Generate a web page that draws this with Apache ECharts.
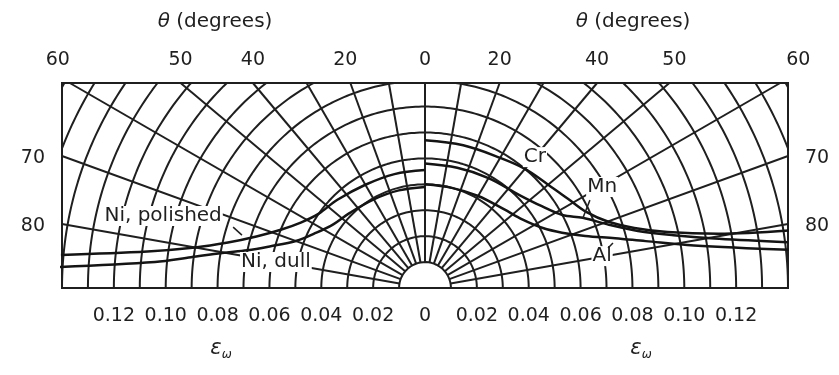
<!DOCTYPE html>
<html><head><meta charset="utf-8">
<script src="https://cdn.jsdelivr.net/npm/echarts@6/dist/echarts.min.js"></script>
<style>html,body{margin:0;padding:0;background:#fff}#c{width:839px;height:375px}</style>
</head><body><div id="c"></div>
<script>
// ---- data ----
const ringRadii = [0.01,0.02,0.03,0.04,0.05,0.06,0.07,0.08,0.09,0.10,0.11,0.12,0.13,0.14,0.15,0.16];
const spokeAngles = [-80,-70,-60,-50,-40,-30,-20,-10,0,10,20,30,40,50,60,70,80];
const topTickAngles = [-60,-50,-40,-20,0,20,40,50,60];
const sideTickAngles = [-80,-70,70,80];

// left half (Ni) – angles measured from the normal, drawn to the left
const niPolishedDeg = [0, 15, 30, 45, 55, 62, 68, 73, 77, 80, 82.5, 84.8];
const niPolishedEps = [0.0455, 0.0455, 0.046, 0.048, 0.050, 0.054, 0.060, 0.068, 0.078, 0.090, 0.108, 0.141];
const niDullDeg = [0, 15, 30, 45, 55, 63, 70, 75, 78, 80.2, 82.5, 84.5, 86.7];
const niDullEps = [0.039, 0.039, 0.0395, 0.041, 0.043, 0.047, 0.053, 0.062, 0.070, 0.0794, 0.091, 0.1046, 0.141];
// right half
const crDeg = [0, 15, 30, 40, 50, 58, 65, 70, 74, 77, 79.5, 81];
const crEps = [0.057, 0.057, 0.058, 0.060, 0.062, 0.065, 0.069, 0.075, 0.084, 0.096, 0.115, 0.142];
const mnDeg = [0, 15, 30, 45, 55, 62, 66, 71, 75, 78, 80.5, 82.8];
const mnEps = [0.048, 0.048, 0.049, 0.051, 0.055, 0.060, 0.0666, 0.075, 0.085, 0.098, 0.115, 0.141];
const alDeg = [0, 15, 30, 45, 55, 63, 68, 72, 75.3, 78, 81, 84];
const alEps = [0.040, 0.040, 0.041, 0.043, 0.046, 0.051, 0.057, 0.065, 0.0758, 0.087, 0.105, 0.141];

// ---- layout / style ----
const X_MAX = 0.14, Y_MAX = 0.0791;
const INK = '#1f1f1f';
const FONT = '"DejaVu Sans", "Liberation Sans", Arial, sans-serif';

function P(eps, deg) { const t = deg * Math.PI / 180; return [eps * Math.sin(t), eps * Math.cos(t)]; }
function curve(degs, epss, side) { return degs.map((d, i) => P(epss[i], side * d)); }

const series = [];
// rings
ringRadii.forEach(r => {
  const pts = [];
  for (let a = -90; a <= 90; a += 1) pts.push(P(r, a));
  series.push({ type: 'line', data: pts, showSymbol: false, symbol: 'none', clip: true, silent: true,
    lineStyle: { color: INK, width: 2 }, z: 2 });
});
// spokes
spokeAngles.forEach(a => {
  const t = Math.abs(a) * Math.PI / 180;
  const rEnd = Math.min(Y_MAX / Math.cos(t), t === 0 ? 1 : X_MAX / Math.sin(t));
  series.push({ type: 'line', data: [P(0.01, a), P(rEnd, a)], showSymbol: false, symbol: 'none', clip: true, silent: true,
    lineStyle: { color: INK, width: 2 }, z: 2 });
});
// data curves
[[niPolishedDeg, niPolishedEps, -1], [niDullDeg, niDullEps, -1], [crDeg, crEps, 1], [mnDeg, mnEps, 1], [alDeg, alEps, 1]]
  .forEach(([d, e, s]) => series.push({ type: 'line', data: curve(d, e, s), smooth: 0.35, showSymbol: false, symbol: 'none',
    clip: true, lineStyle: { color: '#141414', width: 2.5 }, z: 3 }));

const labelBase = { color: INK, opacity: 1, fontFamily: FONT };
// top angle labels
const topOffsets = { '-60': [-12, 0], '60': [18, 0], '-20': [-5, 0], '50': [5, 0] };
series.push({ type: 'scatter', symbolSize: 0, z: 5, silent: true, itemStyle: { opacity: 1 },
  data: topTickAngles.map(a => ({ value: [Y_MAX * Math.tan(a * Math.PI / 180), Y_MAX],
    label: { offset: topOffsets[String(a)] || [0, 0] }, name: String(Math.abs(a)) })),
  label: Object.assign({ show: true, position: 'top', distance: 13, formatter: p => p.name, fontSize: 19 }, labelBase) });
// side angle labels
series.push({ type: 'scatter', symbolSize: 0, z: 5, silent: true, itemStyle: { opacity: 1 },
  data: sideTickAngles.map(a => ({ value: [Math.sign(a) * X_MAX, X_MAX / Math.tan(Math.abs(a) * Math.PI / 180)],
    name: String(Math.abs(a)), label: { position: a < 0 ? 'left' : 'right', offset: [0, 2] } })),
  label: Object.assign({ show: true, distance: 17, formatter: p => p.name, fontSize: 19 }, labelBase) });

// curve labels (text anchored in data space)
const curveLabels = [
  { text: 'Ni, polished', at: [-0.1010, 0.0278] },
  { text: 'Ni, dull', at: [-0.0575, 0.0100] },
  { text: 'Cr', at: [0.0424, 0.0505] },
  { text: 'Mn', at: [0.0683, 0.0390] },
  { text: 'Al', at: [0.0683, 0.0123] }
];
series.push({ type: 'scatter', symbolSize: 0, z: 10, silent: true, itemStyle: { opacity: 1 },
  data: curveLabels.map(l => ({ value: l.at, name: l.text })),
  label: Object.assign({ show: true, position: 'inside', formatter: p => p.name, fontSize: 20,
    backgroundColor: '#fff', padding: [0, 1, 0, 1], textBorderWidth: 0 }, labelBase) });
// leader lines
const leaders = [
  [[-0.0740, 0.0235], [-0.0706, 0.0204]],
  [[0.0636, 0.0339], [0.0609, 0.0270]],
  [[0.0706, 0.0154], [0.0725, 0.0174]]
];
leaders.forEach(seg => series.push({ type: 'line', data: seg, showSymbol: false, symbol: 'none', z: 11, silent: true,
  lineStyle: { color: INK, width: 1.5 } }));

const richEps = {
  e: { fontSize: 21, fontStyle: 'italic', fontFamily: FONT, fill: INK, verticalAlign: 'middle', lineHeight: 24 },
  w: { fontSize: 12, fontStyle: 'italic', fontFamily: FONT, fill: INK, verticalAlign: 'bottom', lineHeight: 24 }
};
const richTheta = {
  t: { fontSize: 20, fontStyle: 'italic', fontFamily: FONT, fill: INK },
  n: { fontSize: 20, fontFamily: FONT, fill: INK }
};

const chart = echarts.init(document.getElementById('c'), null, { renderer: 'canvas' });
chart.setOption({
  animation: false,
  backgroundColor: '#fff',
  grid: { left: 62, top: 83, width: 726, height: 205, show: true, borderColor: INK, borderWidth: 2, backgroundColor: 'transparent' },
  xAxis: { type: 'value', min: -0.14, max: 0.14, interval: 0.02,
    axisLine: { show: true, lineStyle: { color: INK, width: 2 } }, axisTick: { show: false }, splitLine: { show: false },
    axisLabel: { margin: 19, color: INK, fontSize: 19, fontFamily: FONT,
      formatter: v => { const a = Math.abs(Math.round(v * 100) / 100); return a > 0.13 ? '' : (a === 0 ? '0' : a.toFixed(2)); } } },
  yAxis: { type: 'value', min: 0, max: Y_MAX, show: false },
  graphic: [
    { type: 'text', x: 215, y: 22, style: { text: '{t|θ}{n| (degrees)}', rich: richTheta, textAlign: 'center', textVerticalAlign: 'middle' } },
    { type: 'text', x: 633, y: 22, style: { text: '{t|θ}{n| (degrees)}', rich: richTheta, textAlign: 'center', textVerticalAlign: 'middle' } },
    { type: 'text', x: 221, y: 349, style: { text: '{e|ε}{w|ω}', rich: richEps, textAlign: 'center', textVerticalAlign: 'middle' } },
    { type: 'text', x: 641, y: 349, style: { text: '{e|ε}{w|ω}', rich: richEps, textAlign: 'center', textVerticalAlign: 'middle' } }
  ],
  series
});
</script></body></html>
